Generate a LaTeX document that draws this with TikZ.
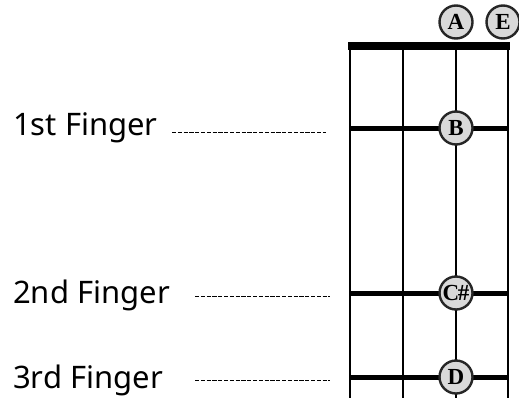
\documentclass[tikz,border=0pt]{standalone}
\usepackage{fontspec}
\setmainfont{Noto Sans}
\newfontfamily\notefont{Liberation Serif}
\usepackage{tikz}
\usetikzlibrary{positioning}

\begin{document}
\begin{tikzpicture}[x=1pt,y=-1pt,
		note/.style={circle,draw=black!85,fill=black!15,line width=2.4pt,minimum size=33pt,inner sep=0pt,font=\notefont\bfseries\fontsize{23}{23}\selectfont},
		finger/.style={anchor=base west,inner sep=0pt,font=\fontsize{31}{32}\selectfont},
		fingerdash/.style={line width=1pt,dash pattern=on 4.2pt off 1.6pt},
		fret/.style={line width=5pt}]
				\useasboundingbox (0,0) rectangle (519,402);
				% strings
				\foreach \x in {350,403,456,508}
					\draw[line width=1.8pt] (\x,46) -- (\x,398);
				% nut and frets
				\draw[line width=8pt] (348,46) -- (510,46);
				\foreach \y in {128,293,377}
					\draw[fret] (350,\y) -- (508,\y);
				% notes
				\node[note] (nA) at (456,22) {A};
				\node[note] (nE) at (503,22) {E};
				\node[note] (nB) at (456,128) {B};
				\node[note] (nCs) at (456,293) {\kern-3pt C\kern-1.5pt\#\kern-3pt};
				\node[note] (nD) at (456,377) {D};
				% finger labels
				\node[finger] (first) at (13,135) {1st Finger};
				\node[finger] (second) at (13,303) {2nd Finger};
				\node[finger] (third) at (13,388) {3rd Finger};
				\coordinate (first end) at (326,132);
				\coordinate (second end) at (330,296);
				\coordinate (third end) at (330,380);
				\draw[fingerdash] (172,0 |- first end) -- (first end);
				\draw[fingerdash] (195,0 |- second end) -- (second end);
				\draw[fingerdash] (195,0 |- third end) -- (third end);
			\end{tikzpicture}
\end{document}
